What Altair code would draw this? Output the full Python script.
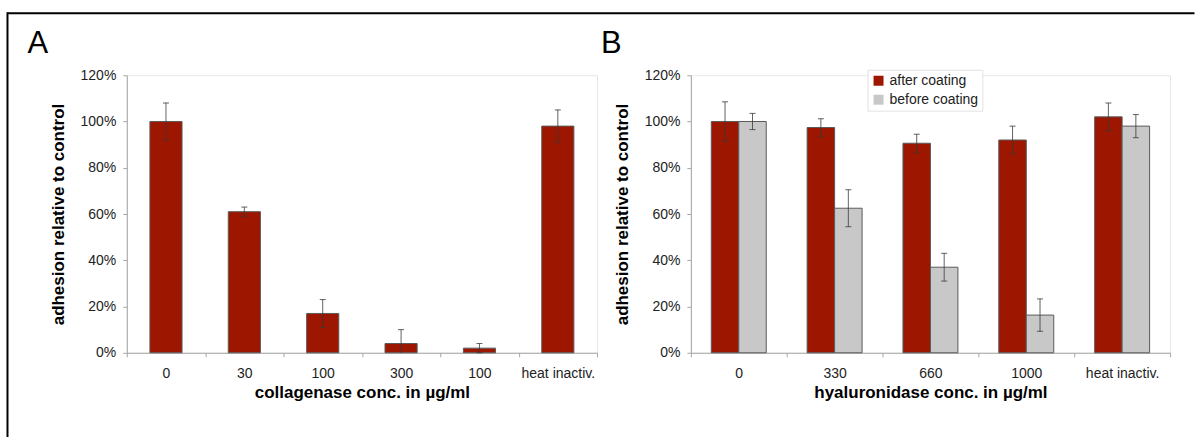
import json
import altair as alt
import pandas as pd

FONT = "Liberation Sans"
RED = "#9c1600"
GREY = "#c8c8c8"
ERR = "#3a3a3a"
AXIS_GREY = "#a6a6a6"

# Panel A: collagenase treatment
a_labels = ["0", "30", "100", "300", "100", "heat inactiv."]
a_mean = [100, 61, 17, 4, 2, 98]
a_err = [8, 2, 6, 6, 2, 7]

# Panel B: hyaluronidase treatment, after / before coating
b_labels = ["0", "330", "660", "1000", "heat inactiv."]
b_series = ["after coating", "before coating"]
b_after = [100, 97.4, 90.6, 92, 102]
b_after_err = [8.5, 3.8, 3.9, 6, 6]
b_before = [100, 62.5, 37, 16.3, 98]
b_before_err = [3.5, 8, 6, 7, 5]

y_ticks = [0, 0.2, 0.4, 0.6, 0.8, 1.0, 1.2]

# page geometry (pixels)
PAGE_W, PAGE_H = 1196, 437
LEFT, TOP = 126.5, 74
A_W, B_W, H = 471, 480, 278
GAP = 94
B_LEFT = LEFT + A_W + GAP


def err_frame(labels, means, errs, key, series=None):
    rows = []
    for i, (m, e) in enumerate(zip(means, errs)):
        row = {
            key: i if series is None else labels[i],
            "mean": m / 100,
            "lo": max(m - e, 0) / 100,
            "hi": (m + e) / 100,
            "lo_cap": (m - e) >= 0,
        }
        if series is not None:
            row["series"] = series
        rows.append(row)
    return rows


y_axis = alt.Axis(
    values=y_ticks, format=".0%", grid=False, tickSize=4, labelPadding=7,
    title="adhesion relative to control", titleAngle=270, titleAlign="center",
    titleBaseline="alphabetic", titleX=-63, titleY=H / 2,
)
y_scale = alt.Scale(domain=[0, 1.2], nice=False)


def y_enc(field):
    return alt.Y(f"{field}:Q", scale=y_scale, axis=y_axis)


def x_axis(title, label_expr=None):
    kw = dict(
        title=title, labelAngle=0, tickBand="extent", tickSize=4,
        labelBaseline="alphabetic", labelPadding=21,
        titleBaseline="alphabetic", titleY=44.5,
    )
    if label_expr:
        kw["labelExpr"] = label_expr
    return alt.Axis(**kw)


# ---------- panel A ----------
df_a = pd.DataFrame(err_frame(a_labels, a_mean, a_err, "pos"))
xa = alt.X(
    "pos:O",
    scale=alt.Scale(paddingInner=0, paddingOuter=0),
    axis=x_axis("collagenase conc. in µg/ml", f"{json.dumps(a_labels)}[datum.value]"),
)

one = pd.DataFrame({"t": ["A"]})

# invisible sheet spanning the whole figure, so the figure keeps its size
page = alt.Chart(one).mark_rect(opacity=0).encode(
    x=alt.value(-LEFT), x2=alt.value(PAGE_W - LEFT),
    y=alt.value(-TOP), y2=alt.value(PAGE_H - TOP),
)
frame_top = alt.Chart(one).mark_rule(color="black", strokeWidth=2).encode(
    x=alt.value(7 - LEFT), x2=alt.value(PAGE_W - LEFT), y=alt.value(12 - TOP),
)
frame_left = alt.Chart(one).mark_rule(color="black", strokeWidth=2).encode(
    x=alt.value(7 - LEFT), y=alt.value(11 - TOP), y2=alt.value(PAGE_H - TOP),
)
letter_a = alt.Chart(one).mark_text(
    align="left", baseline="alphabetic", fontSize=31, font=FONT, color="black"
).encode(text="t:N", x=alt.value(27 - LEFT), y=alt.value(51.7 - TOP))

bars_a = alt.Chart(df_a).mark_bar(
    width=alt.RelativeBandSize(0.41), color=RED, stroke="#5a5a5a", strokeWidth=1
).encode(x=xa, y=y_enc("mean"))
rule_a = alt.Chart(df_a).mark_rule(color=ERR, opacity=0.8, strokeWidth=1).encode(
    x=xa, y=y_enc("lo"), y2="hi:Q"
)
cap_hi_a = alt.Chart(df_a).mark_tick(size=6, thickness=1, color=ERR, opacity=0.8).encode(
    x=xa, y=y_enc("hi")
)
cap_lo_a = alt.Chart(df_a).transform_filter("datum.lo_cap").mark_tick(
    size=6, thickness=1, color=ERR, opacity=0.8
).encode(x=xa, y=y_enc("lo"))

panel_a = alt.layer(
    page, frame_top, frame_left, letter_a, bars_a, rule_a, cap_hi_a, cap_lo_a
).properties(width=A_W, height=H)

# ---------- panel B ----------
df_b = pd.DataFrame(
    err_frame(b_labels, b_after, b_after_err, "conc", b_series[0])
    + err_frame(b_labels, b_before, b_before_err, "conc", b_series[1])
)
xb = alt.X(
    "conc:N", sort=b_labels,
    scale=alt.Scale(paddingInner=0, paddingOuter=0),
    axis=x_axis("hyaluronidase conc. in µg/ml"),
)
xo = alt.XOffset(
    "series:N", sort=b_series, scale=alt.Scale(paddingInner=0, paddingOuter=0.744)
)

letter_b = alt.Chart(pd.DataFrame({"t": ["B"]})).mark_text(
    align="left", baseline="alphabetic", fontSize=31, font=FONT, color="black"
).encode(text="t:N", x=alt.value(601.5 - B_LEFT), y=alt.value(51.7 - TOP))

# the legend of a concatenated figure is placed from the figure's origin
bars_b = alt.Chart(df_b).mark_bar(stroke="#5a5a5a", strokeWidth=1).encode(
    x=xb, xOffset=xo, y=y_enc("mean"),
    color=alt.Color(
        "series:N",
        scale=alt.Scale(domain=b_series, range=[RED, GREY]),
        legend=alt.Legend(
            title=None, orient="none", legendX=868.5 - LEFT, legendY=68.5 - TOP,
            symbolType="square", symbolSize=100, symbolStrokeWidth=0,
            labelFont=FONT, labelFontSize=14, labelColor="#222", labelOffset=4,
            padding=4, rowPadding=5, fillColor="white", strokeColor="#e2e2e2",
        ),
    ),
)
rule_b = alt.Chart(df_b).mark_rule(color=ERR, opacity=0.8, strokeWidth=1).encode(
    x=xb, xOffset=xo, y=y_enc("lo"), y2="hi:Q"
)
cap_hi_b = alt.Chart(df_b).mark_tick(size=6, thickness=1, color=ERR, opacity=0.8).encode(
    x=xb, xOffset=xo, y=y_enc("hi")
)
cap_lo_b = alt.Chart(df_b).transform_filter("datum.lo_cap").mark_tick(
    size=6, thickness=1, color=ERR, opacity=0.8
).encode(x=xb, xOffset=xo, y=y_enc("lo"))

panel_b = alt.layer(letter_b, bars_b, rule_b, cap_hi_b, cap_lo_b).properties(
    width=B_W, height=H
)

chart = (
    alt.hconcat(panel_a, panel_b, spacing=GAP, bounds="flush")
    .properties(padding=0, background="white")
    .configure_view(stroke="#e6e6e6", strokeWidth=1)
    .configure_axis(
        domainColor=AXIS_GREY, tickColor=AXIS_GREY,
        labelFont=FONT, labelFontSize=14, labelColor="#222",
        titleFont=FONT, titleFontSize=17, titleFontWeight="bold", titleColor="black",
    )
)

chart.save("out.html", embed_options={"renderer": "svg", "actions": False})
